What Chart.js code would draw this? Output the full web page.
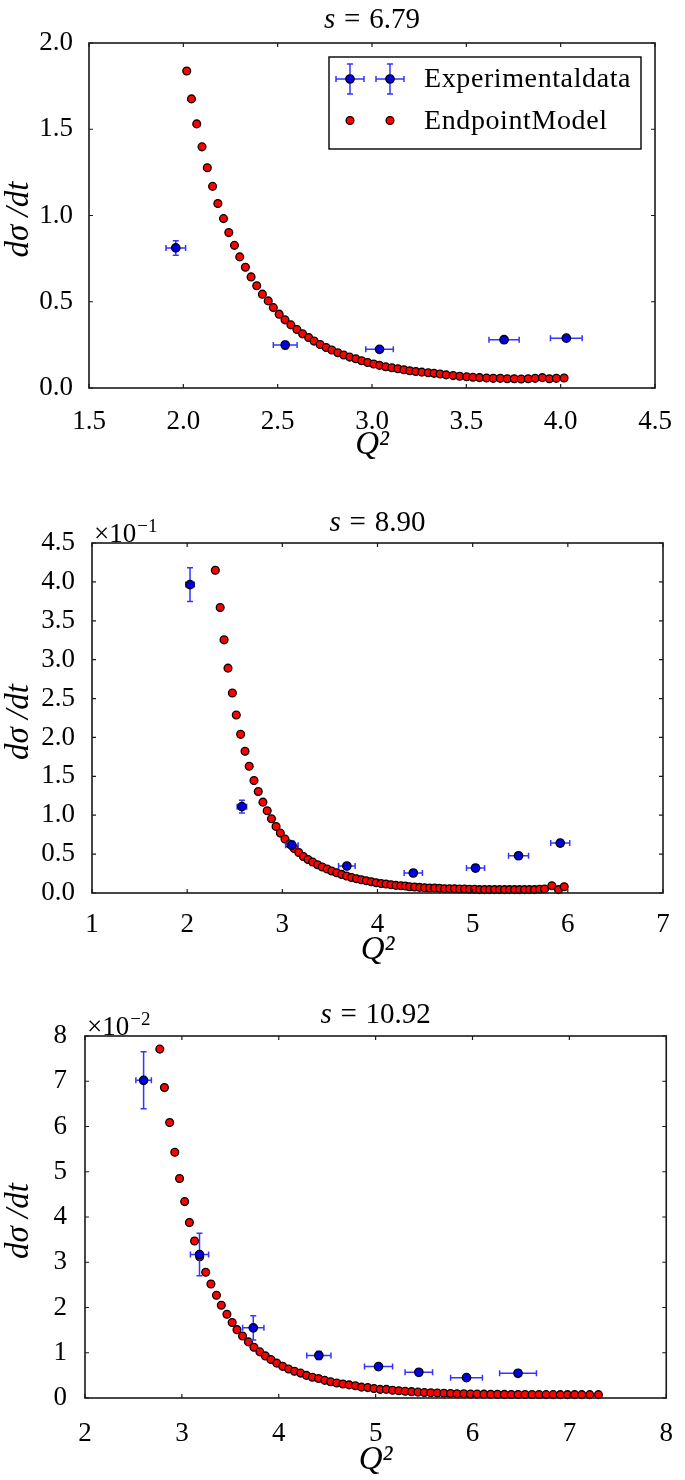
<!DOCTYPE html>
<html>
<head>
<meta charset="utf-8">
<script src="https://cdn.jsdelivr.net/npm/chart.js@4.4.0/dist/chart.umd.min.js"></script>
<style>
    html, body { margin: 0; padding: 0; background: #fff; }
    body { width: 685px; height: 1480px; position: relative; overflow: hidden; }
    canvas { position: absolute; left: 0; }
</style>
</head>
<body>
<canvas id="c1" width="685" height="465" style="top:0px"></canvas>
<canvas id="c2" width="685" height="480" style="top:490px"></canvas>
<canvas id="c3" width="685" height="505" style="top:975px"></canvas>
<script>
// ---------- s = 6.79 ----------
const expQ2_1 = [1.96, 2.54, 3.04, 3.70, 4.03];
const expQ2Err_1 = [0.052, 0.063, 0.073, 0.080, 0.084];
const expY_1 = [0.812, 0.249, 0.224, 0.280, 0.289];
const expYErr_1 = [0.042, 0.021, 0.012, 0.010, 0.010];
const modelQ2_1 = [2.018, 2.043, 2.071, 2.099, 2.127, 2.155, 2.183, 2.213, 2.241, 2.271,
    2.299, 2.329, 2.359, 2.389, 2.419, 2.450, 2.477, 2.508, 2.539, 2.570,
    2.602, 2.632, 2.664, 2.693, 2.725, 2.757, 2.787, 2.819, 2.850, 2.882,
    2.914, 2.945, 2.977, 3.009, 3.040, 3.072, 3.105, 3.137, 3.169, 3.200,
    3.232, 3.264, 3.298, 3.329, 3.361, 3.393, 3.430, 3.465, 3.502, 3.535,
    3.570, 3.607, 3.643, 3.680, 3.717, 3.754, 3.791, 3.828, 3.865, 3.903,
    3.940, 3.977, 4.018];
const modelY_1 = [1.838, 1.676, 1.531, 1.398, 1.277, 1.169, 1.070, 0.982, 0.901, 0.827,
    0.760, 0.700, 0.644, 0.593, 0.544, 0.505, 0.466, 0.428, 0.395, 0.366,
    0.339, 0.314, 0.293, 0.272, 0.252, 0.235, 0.220, 0.204, 0.191, 0.179,
    0.170, 0.158, 0.148, 0.139, 0.131, 0.123, 0.117, 0.112, 0.106, 0.100,
    0.096, 0.092, 0.088, 0.085, 0.081, 0.076, 0.072, 0.068, 0.065, 0.062,
    0.060, 0.058, 0.056, 0.056, 0.054, 0.054, 0.052, 0.054, 0.056, 0.060,
    0.054, 0.056, 0.058];
const xTicks_1 = [1.5, 2.0, 2.5, 3.0, 3.5, 4.0, 4.5];
const yTicks_1 = [0.0, 0.5, 1.0, 1.5, 2.0];

// ---------- s = 8.90 (y in units of 1e-1) ----------
const expQ2_2 = [2.03, 2.575, 3.10, 3.678, 4.376, 5.030, 5.482, 5.920];
const expQ2Err_2 = [0.045, 0.050, 0.066, 0.087, 0.096, 0.095, 0.105, 0.100];
const expY_2 = [3.965, 1.110, 0.615, 0.347, 0.257, 0.321, 0.479, 0.642];
const expYErr_2 = [0.216, 0.081, 0.050, 0.040, 0.040, 0.040, 0.040, 0.040];
const modelQ2_2 = [2.296, 2.347, 2.388, 2.429, 2.475, 2.516, 2.562, 2.608, 2.652, 2.702,
    2.747, 2.796, 2.841, 2.886, 2.934, 2.979, 3.028, 3.076, 3.125, 3.173,
    3.221, 3.270, 3.318, 3.370, 3.419, 3.471, 3.519, 3.571, 3.623, 3.675,
    3.727, 3.779, 3.830, 3.882, 3.934, 3.986, 4.038, 4.090, 4.142, 4.194,
    4.246, 4.292, 4.337, 4.390, 4.442, 4.495, 4.547, 4.600, 4.652, 4.705,
    4.757, 4.810, 4.862, 4.915, 4.967, 5.020, 5.072, 5.125, 5.177, 5.230,
    5.282, 5.335, 5.387, 5.440, 5.492, 5.545, 5.597, 5.650, 5.702, 5.755,
    5.832, 5.902, 5.962];
const modelY_2 = [4.149, 3.670, 3.255, 2.891, 2.571, 2.288, 2.040, 1.822, 1.630, 1.446,
    1.305, 1.168, 1.057, 0.954, 0.855, 0.770, 0.693, 0.629, 0.573, 0.521,
    0.470, 0.431, 0.398, 0.363, 0.334, 0.308, 0.282, 0.261, 0.239, 0.218,
    0.200, 0.184, 0.171, 0.158, 0.145, 0.132, 0.123, 0.116, 0.107, 0.098,
    0.094, 0.090, 0.081, 0.077, 0.072, 0.068, 0.064, 0.064, 0.060, 0.055,
    0.055, 0.055, 0.051, 0.051, 0.047, 0.047, 0.043, 0.043, 0.043, 0.043,
    0.043, 0.043, 0.043, 0.043, 0.043, 0.043, 0.043, 0.043, 0.047, 0.051,
    0.094, 0.043, 0.081];
const xTicks_2 = [1, 2, 3, 4, 5, 6, 7];
const yTicks_2 = [0.0, 0.5, 1.0, 1.5, 2.0, 2.5, 3.0, 3.5, 4.0, 4.5];

// ---------- s = 10.92 (y in units of 1e-2) ----------
const expQ2_3 = [2.605, 3.182, 3.737, 4.414, 5.030, 5.446, 5.938, 6.470];
const expQ2Err_3 = [0.080, 0.094, 0.110, 0.125, 0.145, 0.142, 0.164, 0.190];
const expY_3 = [7.02, 3.17, 1.55, 0.94, 0.694, 0.568, 0.450, 0.546];
const expYErr_3 = [0.63, 0.47, 0.27, 0.09, 0.05, 0.05, 0.05, 0.05];
const modelQ2_3 = [2.772, 2.820, 2.874, 2.927, 2.976, 3.029, 3.078, 3.131, 3.184, 3.246,
    3.300, 3.357, 3.407, 3.465, 3.519, 3.569, 3.626, 3.687, 3.744, 3.805,
    3.862, 3.919, 3.980, 4.040, 4.101, 4.162, 4.226, 4.286, 4.347, 4.411,
    4.475, 4.535, 4.599, 4.663, 4.727, 4.791, 4.855, 4.919, 4.983, 5.047,
    5.111, 5.175, 5.240, 5.305, 5.371, 5.437, 5.503, 5.570, 5.637, 5.705,
    5.773, 5.841, 5.910, 5.979, 6.048, 6.118, 6.188, 6.258, 6.329, 6.400,
    6.471, 6.543, 6.615, 6.687, 6.760, 6.833, 6.906, 6.980, 7.054, 7.128,
    7.210, 7.300];
const modelY_3 = [7.71, 6.86, 6.09, 5.43, 4.85, 4.34, 3.88, 3.47, 3.12, 2.78,
    2.52, 2.27, 2.05, 1.85, 1.67, 1.51, 1.37, 1.24, 1.12, 1.02,
    0.93, 0.85, 0.77, 0.70, 0.64, 0.59, 0.55, 0.50, 0.46, 0.43,
    0.39, 0.36, 0.33, 0.31, 0.29, 0.27, 0.24, 0.23, 0.21, 0.19,
    0.19, 0.17, 0.16, 0.15, 0.14, 0.13, 0.12, 0.115, 0.11, 0.105,
    0.10, 0.095, 0.092, 0.089, 0.087, 0.085, 0.083, 0.081, 0.080, 0.079,
    0.078, 0.077, 0.076, 0.076, 0.075, 0.075, 0.074, 0.074, 0.074, 0.074,
    0.074, 0.074];
const xTicks_3 = [2, 3, 4, 5, 6, 7, 8];
const yTicks_3 = [0, 1, 2, 3, 4, 5, 6, 7, 8];

const serif = '"Liberation Serif", "Times New Roman", serif';
const colors = {
    model: "#ff0000",
    exp: "#0000e6",
    errBar: "#3535ff",
    frame: "#1a1a1a"
};

function toPoints(xs, ys) {
    return xs.map((v, i) => ({ x: v, y: ys[i] }));
}

// Error bars drawn right before the experimental points
const errorBars = {
    id: "errorBars",
    beforeDatasetDraw(chart, args, opts) {
        if (args.index !== 0) return;
        const { ctx } = chart;
        const x = chart.scales.x, y = chart.scales.y;
        ctx.save();
        ctx.strokeStyle = colors.errBar;
        ctx.lineWidth = 1.5;
        opts.xs.forEach((q, i) => {
            const px = x.getPixelForValue(q);
            const py = y.getPixelForValue(opts.ys[i]);
            const x0 = x.getPixelForValue(q - opts.xErr[i]);
            const x1 = x.getPixelForValue(q + opts.xErr[i]);
            const y0 = y.getPixelForValue(opts.ys[i] - opts.yErr[i]);
            const y1 = y.getPixelForValue(opts.ys[i] + opts.yErr[i]);
            ctx.beginPath();
            ctx.moveTo(x0, py); ctx.lineTo(x1, py);
            ctx.moveTo(px, y0); ctx.lineTo(px, y1);
            ctx.moveTo(x0, py - 3); ctx.lineTo(x0, py + 3);
            ctx.moveTo(x1, py - 3); ctx.lineTo(x1, py + 3);
            ctx.moveTo(px - 3, y0); ctx.lineTo(px + 3, y0);
            ctx.moveTo(px - 3, y1); ctx.lineTo(px + 3, y1);
            ctx.stroke();
        });
        ctx.restore();
    }
};

function drawDot(ctx, cx, cy, r, fill) {
    ctx.beginPath();
    ctx.arc(cx, cy, r, 0, Math.PI * 2);
    ctx.fillStyle = fill;
    ctx.fill();
    ctx.lineWidth = 1.3;
    ctx.strokeStyle = "#000";
    ctx.stroke();
}

function drawErrMarker(ctx, cx, cy) {
    ctx.strokeStyle = colors.errBar;
    ctx.lineWidth = 1.5;
    ctx.beginPath();
    ctx.moveTo(cx - 14, cy); ctx.lineTo(cx + 14, cy);
    ctx.moveTo(cx, cy - 15); ctx.lineTo(cx, cy + 15);
    ctx.moveTo(cx - 14, cy - 3); ctx.lineTo(cx - 14, cy + 3);
    ctx.moveTo(cx + 14, cy - 3); ctx.lineTo(cx + 14, cy + 3);
    ctx.moveTo(cx - 3, cy - 15); ctx.lineTo(cx + 3, cy - 15);
    ctx.moveTo(cx - 3, cy + 15); ctx.lineTo(cx + 3, cy + 15);
    ctx.stroke();
    drawDot(ctx, cx, cy, 4.2, colors.exp);
}

// Frame, inward ticks, title, offset text and legend
const decor = {
    id: "decor",
    afterDraw(chart, args, opts) {
        const { ctx, chartArea: a } = chart;
        const x = chart.scales.x, y = chart.scales.y;
        ctx.save();
        ctx.strokeStyle = colors.frame;
        ctx.lineWidth = 1.6;
        ctx.strokeRect(a.left, a.top, a.right - a.left, a.bottom - a.top);
        ctx.lineWidth = 1.2;
        ctx.beginPath();
        x.ticks.forEach(t => {
            const px = x.getPixelForValue(t.value);
            ctx.moveTo(px, a.bottom); ctx.lineTo(px, a.bottom - 4);
            ctx.moveTo(px, a.top); ctx.lineTo(px, a.top + 4);
        });
        y.ticks.forEach(t => {
            const py = y.getPixelForValue(t.value);
            ctx.moveTo(a.left, py); ctx.lineTo(a.left + 4, py);
            ctx.moveTo(a.right, py); ctx.lineTo(a.right - 4, py);
        });
        ctx.stroke();

        // title: italic s, then = value
        const size = 29;
        const cx = (a.left + a.right) / 2;
        ctx.fillStyle = "#000";
        ctx.textBaseline = "alphabetic";
        ctx.font = `italic ${size}px ${serif}`;
        const wS = ctx.measureText("s").width;
        ctx.font = `${size}px ${serif}`;
        const wEq = ctx.measureText("=").width;
        const wV = ctx.measureText(opts.s).width;
        const gap = size * 0.3;
        let tx = cx - (wS + gap + wEq + gap + wV) / 2;
        ctx.font = `italic ${size}px ${serif}`;
        ctx.fillText("s", tx, opts.titleY);
        tx += wS + gap;
        ctx.font = `${size}px ${serif}`;
        ctx.fillText("=", tx, opts.titleY);
        tx += wEq + gap;
        ctx.fillText(opts.s, tx, opts.titleY);

        // offset text like x10^-1
        if (opts.exponent) {
            ctx.font = `27px ${serif}`;
            const ox = a.left + 2, oy = a.top - 1;
            ctx.fillText("×10", ox, oy);
            const w = ctx.measureText("×10").width;
            ctx.font = `19px ${serif}`;
            ctx.fillText(opts.exponent, ox + w + 1, oy - 10);
        }

        if (opts.legend) {
            const bw = 312, bh = 92;
            const bx = a.right - 14 - bw, by = a.top + 14;
            ctx.fillStyle = "#fff";
            ctx.fillRect(bx, by, bw, bh);
            ctx.strokeStyle = "#000";
            ctx.lineWidth = 1.4;
            ctx.strokeRect(bx, by, bw, bh);
            const r1 = by + 22, r2 = by + 63.5;
            drawErrMarker(ctx, bx + 21, r1);
            drawErrMarker(ctx, bx + 61, r1);
            drawDot(ctx, bx + 21, r2, 3.9, colors.model);
            drawDot(ctx, bx + 61, r2, 3.9, colors.model);
            ctx.fillStyle = "#000";
            ctx.font = `28px ${serif}`;
            ctx.letterSpacing = "0.6px";
            ctx.textBaseline = "middle";
            ctx.fillText("Experimentaldata", bx + 95, r1 + 1);
            ctx.fillText("EndpointModel", bx + 95, r2 + 1);
        }
        ctx.restore();
    }
};

function makeChart(id, p) {
    const canvas = document.getElementById(id);
    const ctx = canvas.getContext("2d");
    return new Chart(ctx, {
        type: "scatter",
        data: {
            datasets: [
                {
                    label: "Experimentaldata",
                    data: toPoints(p.expX, p.expY),
                    backgroundColor: colors.exp,
                    borderColor: "#000",
                    borderWidth: 1.3,
                    pointRadius: 4.2,
                    clip: false,
                    order: 0
                },
                {
                    label: "EndpointModel",
                    data: toPoints(p.modelX, p.modelY),
                    backgroundColor: colors.model,
                    borderColor: "#000",
                    borderWidth: 1.3,
                    pointRadius: 3.9,
                    clip: false,
                    order: 1
                }
            ]
        },
        options: {
            responsive: false,
            animation: false,
            layout: { padding: { top: p.padTop, right: p.padRight, left: 0, bottom: 0 } },
            plugins: {
                legend: { display: false },
                tooltip: { enabled: false },
                errorBars: { xs: p.expX, ys: p.expY, xErr: p.expXErr, yErr: p.expYErr },
                decor: { s: p.s, titleY: p.titleY, exponent: p.exponent, legend: p.legend }
            },
            scales: {
                x: {
                    type: "linear",
                    min: p.xTicks[0],
                    max: p.xTicks[p.xTicks.length - 1],
                    afterBuildTicks: s => { s.ticks = p.xTicks.map(v => ({ value: v })); },
                    afterFit: s => { s.height = p.xAxisH; },
                    grid: { display: false },
                    border: { display: false },
                    ticks: {
                        autoSkip: false,
                        maxRotation: 0,
                        padding: p.xTickPad,
                        color: "#000",
                        font: { family: serif, size: 27 },
                        callback: v => v.toFixed(p.xDec)
                    },
                    title: {
                        display: true,
                        text: "Q²",
                        color: "#000",
                        font: { family: serif, size: 33, style: "italic" },
                        padding: { top: 0, bottom: 0 }
                    }
                },
                y: {
                    type: "linear",
                    min: p.yTicks[0],
                    max: p.yTicks[p.yTicks.length - 1],
                    afterBuildTicks: s => { s.ticks = p.yTicks.map(v => ({ value: v })); },
                    afterFit: s => { s.width = p.left; },
                    grid: { display: false },
                    border: { display: false },
                    ticks: {
                        autoSkip: false,
                        padding: p.yTickPad,
                        color: "#000",
                        font: { family: serif, size: 27 },
                        callback: v => v.toFixed(p.yDec)
                    },
                    title: {
                        display: true,
                        text: "dσ /dt ",
                        color: "#000",
                        font: { family: serif, size: 33, style: "italic" },
                        padding: { top: 0, bottom: 0 }
                    }
                }
            }
        },
        plugins: [errorBars, decor]
    });
}

makeChart("c1", {
    expX: expQ2_1, expY: expY_1, expXErr: expQ2Err_1, expYErr: expYErr_1,
    modelX: modelQ2_1, modelY: modelY_1, xTicks: xTicks_1, yTicks: yTicks_1,
    xDec: 1, yDec: 1, s: "6.79", titleY: 28, exponent: null, legend: true,
    padTop: 43, padRight: 30, left: 89, xAxisH: 77, xTickPad: 10, yTickPad: 8
});
makeChart("c2", {
    expX: expQ2_2, expY: expY_2, expXErr: expQ2Err_2, expYErr: expYErr_2,
    modelX: modelQ2_2, modelY: modelY_2, xTicks: xTicks_2, yTicks: yTicks_2,
    xDec: 0, yDec: 1, s: "8.90", titleY: 41, exponent: "−1", legend: false,
    padTop: 53, padRight: 22, left: 92, xAxisH: 77, xTickPad: 8, yTickPad: 9
});
makeChart("c3", {
    expX: expQ2_3, expY: expY_3, expXErr: expQ2Err_3, expYErr: expYErr_3,
    modelX: modelQ2_3, modelY: modelY_3, xTicks: xTicks_3, yTicks: yTicks_3,
    xDec: 0, yDec: 0, s: "10.92", titleY: 48, exponent: "−2", legend: false,
    padTop: 61, padRight: 9, left: 85, xAxisH: 82, xTickPad: 12, yTickPad: 10
});
</script>
</body>
</html>
